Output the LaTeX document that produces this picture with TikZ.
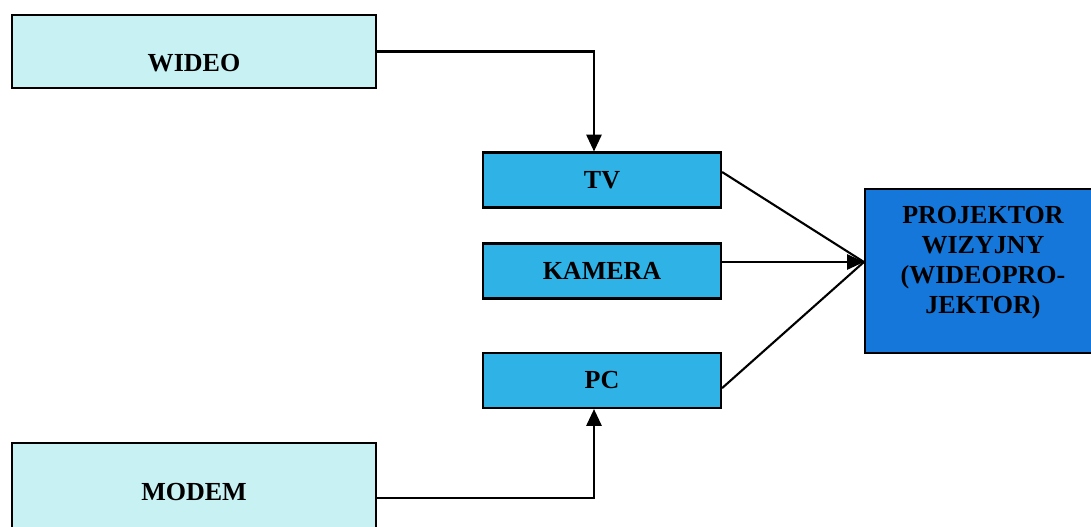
\documentclass[tikz,border=0pt]{standalone}
\usepackage{fontspec}
\setmainfont{Liberation Serif}
\usepackage{tikz}
\usetikzlibrary{arrows.meta, positioning}
\definecolor{srccyan}{HTML}{C8F1F3}
\definecolor{devcyan}{HTML}{2FB3E6}
\definecolor{projblue}{HTML}{1677DB}

\begin{document}
\begin{tikzpicture}[x=0.025cm, y=-0.025cm]
 \tikzset{node style src/.style={draw, line width=1.5pt, fill=srccyan,
        minimum width=9.1cm, font=\fontsize{18.5}{21.3}\selectfont\bfseries}}
 \tikzset{node style dev/.style={draw, line width=1.5pt, fill=devcyan,
        minimum width=5.95cm, minimum height=1.375cm,
        font=\fontsize{18.5}{21.3}\selectfont\bfseries}}
 \tikzset{link/.style={line width=1.5pt},
        arr/.style={link, -{Triangle[length=0.42cm, width=0.38cm]}}}
 \useasboundingbox (0,0) rectangle (1091,526);

 \node[node style src, minimum height=1.825cm, text height=1cm, text depth=0pt]
    (wideo) at (194,51.5) {WIDEO};
 \node[node style src, minimum height=2.45cm] (modem) at (194,492) {MODEM};

 \node[node style dev] (tv) at (602,180) {TV};
 \node[node style dev] (kamera) at (602,271) {KAMERA};
 \node[node style dev] (pc) at (602,380.5) {PC};

 \node[draw, line width=1.5pt, fill=projblue, minimum width=5.9cm,
    minimum height=4.1cm,
    label={[align=center, yshift=0.2cm,
      font=\fontsize{18.5}{21.3}\selectfont\bfseries]center:
      PROJEKTOR\\WIZYJNY\\(WIDEOPRO-\\JEKTOR)}] (proj) at (983,271) {};
 \coordinate (tip) at ([yshift=0.225cm]proj.west);

 \draw[arr] (wideo.east) -| ([xshift=-0.2cm]tv.north);
 \draw[arr] ([yshift=-0.15cm]modem.east) -| ([xshift=-0.2cm]pc.south);
 \draw[link] ([yshift=0.2cm]tv.east) -- (tip);
 \draw[link] ([yshift=-0.19cm]pc.east) -- (tip);
 \draw[arr] (kamera.east |- tip) -- (tip);
\end{tikzpicture}
\end{document}
